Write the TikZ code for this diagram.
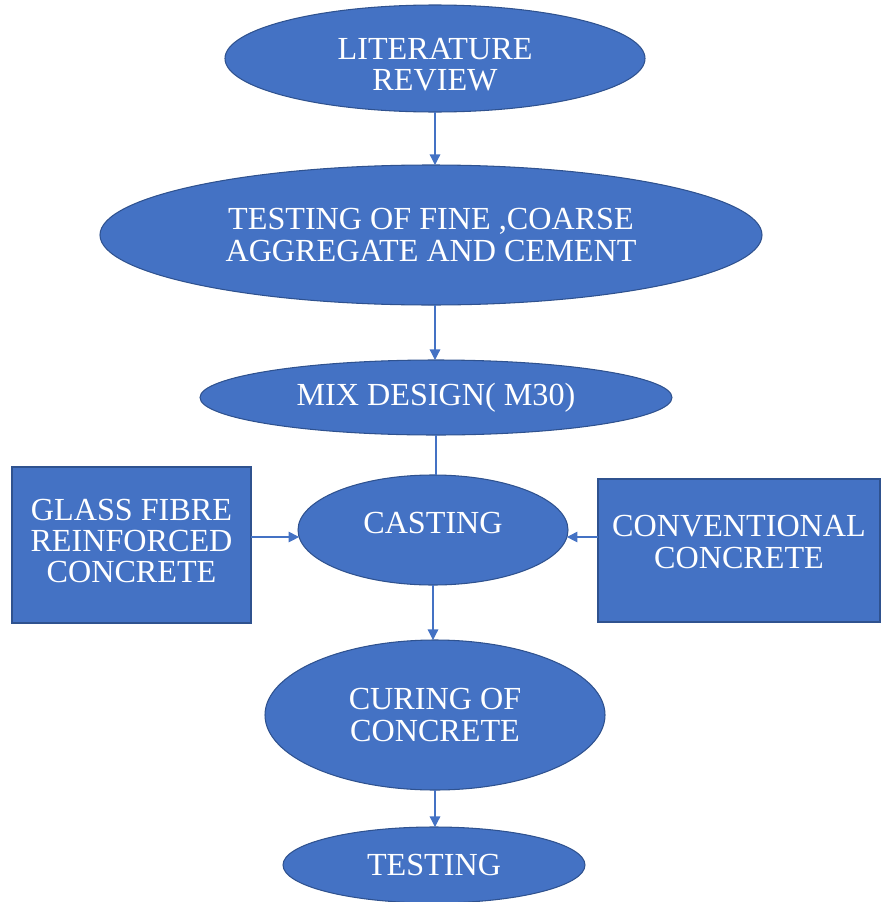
\documentclass[tikz,border=0pt]{standalone}
\usepackage{fontspec}
\setmainfont{Liberation Serif}
\usepackage{xcolor}
\usetikzlibrary{arrows.meta,shapes.geometric,positioning}

\definecolor{stepblue}{HTML}{4472C4}
\definecolor{stepedge}{HTML}{2F528F}

\begin{document}
\begin{tikzpicture}[
  oval/.style={ellipse,draw=stepedge,line width=0.6pt,fill=stepblue,text=white,
    inner sep=0pt,outer sep=0pt,align=center,font=\fontsize{18.3}{17.8}\selectfont},
  sidebox/.style={rectangle,draw=stepedge,line width=0.6pt,fill=stepblue,text=white,
    inner sep=0pt,outer sep=0pt,align=center,font=\fontsize{18.3}{17.8}\selectfont},
  flow/.style={draw=stepblue,line width=0.7pt,-{Triangle[length=6pt,width=6pt]}}
]
\useasboundingbox (0,0) rectangle (17.64,-18.04);

% Main steps
\node[oval,minimum width=8.4cm,minimum height=2.14cm] (lit) at (8.70,-1.17) {\mbox{}\\[1.5pt]LITERATURE\\REVIEW};
\node[oval,minimum width=13.24cm,minimum height=2.8cm] (tests) at (8.62,-4.70) {TESTING OF FINE ,COARSE\\AGGREGATE AND CEMENT};
\node[oval,minimum width=9.44cm,minimum height=1.5cm] (mix) at (8.72,-7.95) {MIX DESIGN( M30)};
\node[oval,minimum width=5.4cm,minimum height=2.2cm] (cast) at (8.66,-10.60) {CASTING\\[-10pt]};
\node[oval,minimum width=6.8cm,minimum height=3.0cm] (cure) at (8.70,-14.30) {CURING OF\\CONCRETE};
\node[oval,minimum width=6.04cm,minimum height=1.52cm] (test) at (8.68,-17.30) {TESTING};

% Side inputs
\node[sidebox,minimum width=4.78cm,minimum height=3.12cm] (glass) at (2.63,-10.90) {GLASS FIBRE\\REINFORCED\\CONCRETE\\[-13pt]};
\node[sidebox,minimum width=5.64cm,minimum height=2.86cm] (conv) at (14.78,-11.01) {CONVENTIONAL\\CONCRETE\\[-8pt]};

% Connectors
\draw[flow] (lit.south) -- (lit.south |- tests.north);
\draw[flow] (tests.south -| lit.south) -- (lit.south |- mix.north);
\draw[draw=stepblue,line width=0.7pt] (mix.south) -- (mix.south |- cast.north);
\draw[flow] (cast.south) -- (cast.south |- cure.north);
\draw[flow] (cure.south) -- (cure.south |- test.north);
\draw[flow] (glass.east |- cast.183) -- (cast.183);
\draw[flow] (conv.west |- cast.-3.5) -- (cast.-3.5);
\end{tikzpicture}
\end{document}
